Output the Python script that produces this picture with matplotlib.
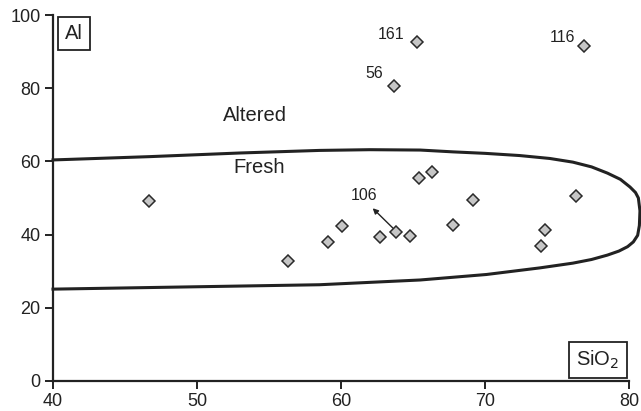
import matplotlib.pyplot as plt

plt.rcParams['font.family'] = ['Liberation Sans', 'DejaVu Sans']

# Sample points (SiO2, Al)
sio2 = [46.7, 56.3, 59.1, 60.1, 62.7, 63.8, 64.8, 65.4, 66.3, 67.8, 69.2,
        73.9, 74.2, 76.3, 65.3, 76.9, 63.7]
al = [49.2, 32.8, 38.0, 42.3, 39.3, 40.6, 39.6, 55.4, 57.0, 42.7, 49.5,
      36.9, 41.3, 50.5, 92.6, 91.5, 80.7]

# Labelled samples
lab_names = ['161', '116', '56']
lab_x = [63.5, 75.4, 62.3]
lab_y = [94.6, 93.9, 84.0]

# Fresh / altered envelope
env_x = [40.0, 46.7, 53.0, 58.5, 62.0, 65.5, 67.8, 70.0, 72.4, 74.5, 76.1,
         77.4, 78.5, 79.4, 80.07, 80.45, 80.65, 80.76, 80.72, 80.6, 80.3,
         79.9, 79.3, 78.5, 77.4, 76.1, 73.8, 70.1, 65.5, 58.5, 40.0]
env_y = [60.4, 61.3, 62.3, 63.0, 63.2, 63.1, 62.6, 62.2, 61.6, 60.8, 59.8,
         58.5, 56.8, 55.1, 53.0, 51.5, 50.0, 46.5, 42.5, 39.8, 38.0,
         36.7, 35.5, 34.4, 33.2, 32.2, 30.9, 29.1, 27.6, 26.3, 25.1]

ink = '#222222'

fig = plt.figure(figsize=(6.41, 4.11), dpi=100)
ax = fig.add_axes([0.0827, 0.073, 0.8986, 0.8905])

ax.plot(env_x, env_y, color=ink, lw=2.2, solid_joinstyle='round',
        clip_on=False, zorder=2)
ax.plot(sio2, al, 'D', ms=6.6, mfc='#c6c6c6', mec='#2a2a2a', mew=1.1,
        clip_on=False, zorder=3)

for name, x, y in zip(lab_names, lab_x, lab_y):
    ax.text(x, y, name, fontsize=11.5, color=ink, ha='center', va='center')

ax.text(61.6, 50.6, '106', fontsize=11.5, color=ink, ha='center', va='center')
ax.annotate('', xy=(62.2, 47.2), xytext=(63.6, 41.8),
            arrowprops=dict(arrowstyle='-|>', color=ink, lw=1.0,
                            mutation_scale=8, shrinkA=0, shrinkB=0))

ax.text(54.0, 72.6, 'Altered', fontsize=14.5, color=ink, ha='center', va='center')
ax.text(54.3, 58.2, 'Fresh', fontsize=14.5, color=ink, ha='center', va='center')

box = dict(boxstyle='square,pad=0.35', fc='white', ec=ink, lw=1.3)
ax.text(0.036, 0.949, 'Al', transform=ax.transAxes, fontsize=14.5, color=ink,
        ha='center', va='center', bbox=box)
ax.text(0.946, 0.057, 'SiO$_2$', transform=ax.transAxes, fontsize=14.5, color=ink,
        ha='center', va='center', bbox=box)

ax.set_xlim(40, 80)
ax.set_ylim(0, 100)
ax.set_xticks([40, 50, 60, 70, 80])
ax.set_yticks([0, 20, 40, 60, 80, 100])
for s in ['top', 'right']:
    ax.spines[s].set_visible(False)
for s in ['left', 'bottom']:
    ax.spines[s].set_linewidth(1.6)
    ax.spines[s].set_color(ink)
ax.tick_params(direction='out', length=6, width=1.4, color=ink,
               labelsize=13, labelcolor=ink, pad=3)

fig.savefig('out.png', dpi=100)
